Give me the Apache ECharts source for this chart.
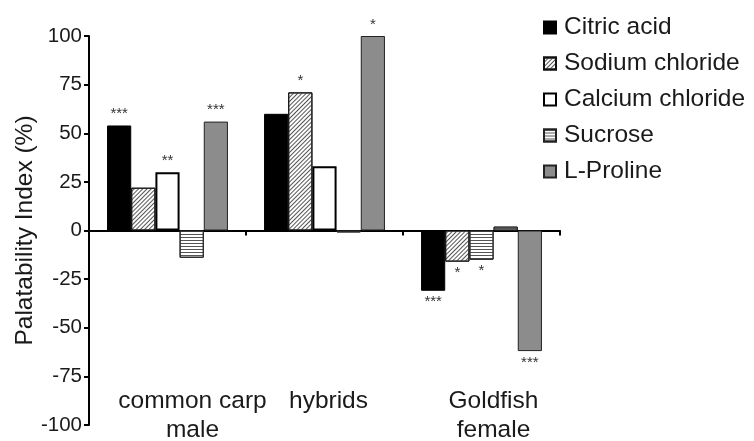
<!DOCTYPE html>
<html>
<head>
<meta charset="utf-8">
<script src="https://cdn.jsdelivr.net/npm/echarts@6/dist/echarts.min.js"></script>
<style>html,body{margin:0;padding:0;background:#fff}#c{width:754px;height:441px}</style>
</head>
<body>
<div id="c"></div>
<script>
const categories = ['common carp\nmale', 'hybrids', 'Goldfish\nfemale'];
const yTicks = [-100, -75, -50, -25, 0, 25, 50, 75, 100];
const citricAcid = [54, 60, -31];
const sodiumChloride = [22, 71, -16];
const calciumChloride = [30, 33, -15];
const sucrose = [-14, -1, 2];
const lProline = [56, 100, -62];
const sigCitric = ['***', '', '***'];
const sigSodium = ['', '*', '*'];
const sigCalcium = ['**', '', '*'];
const sigSucrose = ['', '', ''];
const sigProline = ['***', '*', '***'];

const FONT = '"Liberation Sans", Arial, Helvetica, sans-serif';
const hatchDecal = { symbol: 'rect', symbolSize: 1, dashArrayX: [1, 0], dashArrayY: [0.8, 1.6], rotation: -Math.PI / 4, color: '#555' };
const stripeDecal = { symbol: 'rect', symbolSize: 1, dashArrayX: [1, 0], dashArrayY: [1, 1.5], rotation: 0, color: '#555' };

const styles = {
  citric: { color: '#000', borderColor: '#000', borderWidth: 1 },
  sodium: { color: '#fff', borderColor: '#111', borderWidth: 1, decal: hatchDecal },
  calcium: { color: '#fff', borderColor: '#000', borderWidth: 2 },
  sucrose: { color: '#fff', borderColor: '#222', borderWidth: 1, decal: stripeDecal },
  proline: { color: '#8c8c8c', borderColor: '#222', borderWidth: 1 }
};

function mk(name, vals, sig, style, overrides) {
  return {
    name: name,
    type: 'bar',
    xAxisIndex: 0,
    barGap: '0%',
    barCategoryGap: '23%',
    itemStyle: style,
    label: {
      show: true,
      position: 'outside',
      distance: 4,
      fontSize: 15,
      color: '#333',
      fontFamily: FONT,
      formatter: p => sig[p.dataIndex]
    },
    data: vals.map((v, i) => (overrides && overrides[i]) ? { value: v, itemStyle: overrides[i] } : v)
  };
}

const chart = echarts.init(document.getElementById('c'), null, { renderer: 'canvas' });
chart.setOption({
  animation: false,
  backgroundColor: '#fff',
  grid: { left: 89, right: 194, top: 36, bottom: 16, containLabel: false, outerBoundsMode: 'none' },
  legend: {
    orient: 'vertical',
    left: 538,
    top: 10,
    icon: 'rect',
    itemWidth: 12,
    itemHeight: 12,
    itemGap: 11,
    textStyle: { fontSize: 24.5, lineHeight: 24, color: '#1a1a1a', fontFamily: FONT, padding: [0, 0, 0, 3] },
    data: ['Citric acid', 'Sodium chloride', 'Calcium chloride', 'Sucrose', 'L-Proline']
  },
  xAxis: [{
    type: 'category',
    data: categories,
    axisLine: { onZero: true, lineStyle: { color: '#000', width: 2 } },
    axisTick: { show: true, length: 5, lineStyle: { color: '#000', width: 2 } },
    axisLabel: { show: false },
    splitLine: { show: false }
  }, {
    type: 'category',
    position: 'bottom',
    data: [
      { value: categories[0], textStyle: { padding: [0, 0, 0, 50] } },
      { value: categories[1], textStyle: { padding: [0, 0, 0, 8] } },
      { value: categories[2], textStyle: { padding: [0, 0, 0, 24] } }
    ],
    axisLine: { show: false, onZero: false },
    axisTick: { show: false },
    axisLabel: { margin: -38, fontSize: 24.5, lineHeight: 29, color: '#1a1a1a', fontFamily: FONT, interval: 0 },
    splitLine: { show: false }
  }],
  yAxis: {
    type: 'value',
    min: yTicks[0],
    max: yTicks[yTicks.length - 1],
    interval: 25,
    name: 'Palatability Index (%)',
    nameLocation: 'middle',
    nameGap: 51,
    nameMoveOverlap: false,
    nameTextStyle: { fontSize: 24.5, color: '#1a1a1a', fontFamily: FONT },
    axisLine: { show: true, lineStyle: { color: '#000', width: 2 } },
    axisTick: { show: true, length: 5, lineStyle: { color: '#000', width: 2 } },
    axisLabel: { fontSize: 20.5, color: '#1a1a1a', fontFamily: FONT, margin: 7 },
    splitLine: { show: false }
  },
  series: [
    mk('Citric acid', citricAcid, sigCitric, styles.citric),
    mk('Sodium chloride', sodiumChloride, sigSodium, styles.sodium),
    mk('Calcium chloride', calciumChloride, sigCalcium, styles.calcium, { 2: styles.sucrose }),
    mk('Sucrose', sucrose, sigSucrose, styles.sucrose),
    mk('L-Proline', lProline, sigProline, styles.proline)
  ]
});
</script>
</body>
</html>
